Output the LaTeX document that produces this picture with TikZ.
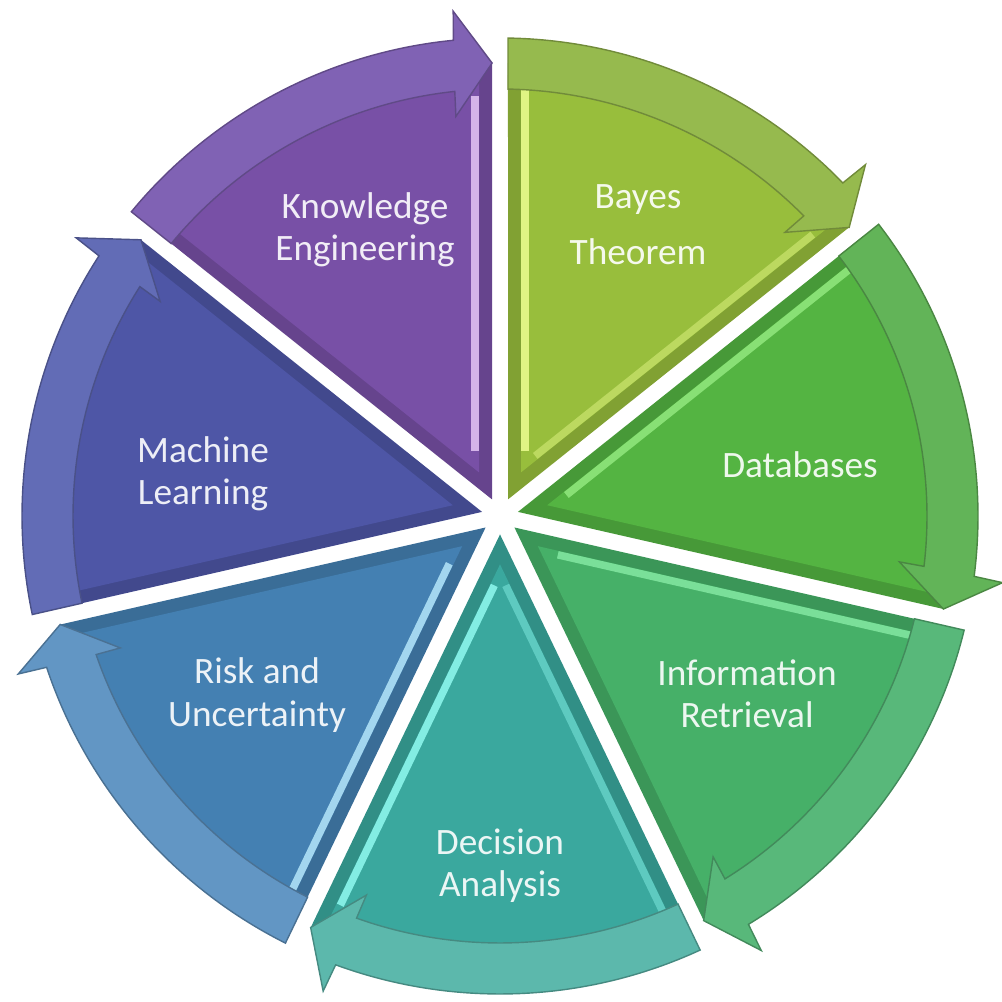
\documentclass[tikz,border=0pt]{standalone}
\usepackage{fontspec}
\setmainfont{Carlito}
\usetikzlibrary{calc}
\definecolor{bayesB}{RGB}{152,190,60}
\definecolor{bayesR}{RGB}{150,186,78}
\definecolor{bayesH}{RGB}{232,250,140}
\definecolor{dbB}{RGB}{84,180,66}
\definecolor{dbR}{RGB}{98,180,88}
\definecolor{dbH}{RGB}{150,235,130}
\definecolor{irB}{RGB}{70,176,104}
\definecolor{irR}{RGB}{88,184,122}
\definecolor{irH}{RGB}{140,240,170}
\definecolor{decB}{RGB}{58,168,158}
\definecolor{decR}{RGB}{92,184,172}
\definecolor{decH}{RGB}{140,245,235}
\definecolor{riskB}{RGB}{68,128,178}
\definecolor{riskR}{RGB}{98,150,196}
\definecolor{riskH}{RGB}{180,230,250}
\definecolor{mlB}{RGB}{78,86,166}
\definecolor{mlR}{RGB}{98,108,182}
\definecolor{mlH}{RGB}{150,160,230}
\definecolor{keB}{RGB}{120,80,166}
\definecolor{keR}{RGB}{128,98,180}
\definecolor{keH}{RGB}{235,205,250}
\tikzset{
  lbl/.style={align=center, font=\fontsize{10.6}{12}\selectfont, inner sep=0pt},
}
\begin{document}
\begin{tikzpicture}
\useasboundingbox (0,0) rectangle (10.02,10.02);
\coordinate (O) at (5.00,4.86);
\foreach \i/\bd/\bn/\hl/\hs/\he in {0/bayesB/bayesR/bayesH/0.9/0.45, 1/dbB/dbR/dbH/0.8/0, 2/irB/irR/irH/0.75/0, 3/decB/decR/decH/0.45/0.9, 4/riskB/riskR/riskH/0.85/0, 5/mlB/mlR/mlH/0/0, 6/keB/keR/keH/0/0.8}{
  \pgfmathsetmacro{\ts}{90-\i*360/7}
  \pgfmathsetmacro{\te}{\ts-360/7}
  \pgfmathsetmacro{\tm}{\ts-180/7}
  \pgfmathsetmacro{\ao}{0.08/sin(180/7)}
  \pgfmathsetmacro{\ai}{0.21/sin(180/7)}
  \pgfmathsetmacro{\db}{asin(0.08/4.53)}
  \pgfmathsetmacro{\dii}{asin(0.21/4.40)}
  \pgfmathsetmacro{\dout}{asin(0.08/4.78)}
  \pgfmathsetmacro{\din}{asin(0.08/4.27)}
  \begin{scope}[shift={(O)}]
    % body with darker rim
    \fill[\bd!85!black] (\tm:\ao) -- (\ts-\db:4.53)
      arc[start angle=\ts-\db, end angle=\te+\db, radius=4.53] -- cycle;
    \fill[\bd] (\tm:\ai) -- (\ts-\dii:4.40)
      arc[start angle=\ts-\dii, end angle=\te+\dii, radius=4.40] -- cycle;
    % bevel highlights
    \draw[line width=0.075cm, \hl, opacity=\hs]
      ($(\ts:0.65)+(\ts-90:0.25)$) -- ($(\ts:4.35)+(\ts-90:0.25)$);
    \draw[line width=0.075cm, \hl, opacity=\he]
      ($(\te:0.65)+(\te+90:0.25)$) -- ($(\te:4.2)+(\te+90:0.25)$);
    % outer arrow band
    \filldraw[fill=\bn, draw=\bn!75!black, line width=0.4pt]
      (\ts-\dout:4.78)
      arc[start angle=\ts-\dout, end angle=\te+5.6, radius=4.78]
      -- (\te+5.3:5.07) -- (\te+1.0:4.53) -- (\te+6.3:4.02)
      -- (\te+6.08:4.27)
      arc[start angle=\te+6.08, end angle=\ts-\din, radius=4.27] -- cycle;
  \end{scope}
}
\node[lbl, text=white!90!bayesB] (bayes) at (6.38,7.77) {Bayes\\[4pt]Theorem};
\node[lbl, text=white!90!dbB] (db) at (8.00,5.375) {Databases};
\node[lbl, text=white!90!irB] (ir) at (7.47,3.08) {Information\\Retrieval};
\node[lbl, text=white!90!decB] (dec) at (5.00,1.36) {Decision\\Analysis};
\node[lbl, text=white!90!riskB] (risk) at (2.57,3.07) {Risk and\\Uncertainty};
\node[lbl, text=white!90!mlB] (ml) at (2.03,5.28) {Machine\\Learning};
\node[lbl, text=white!90!keB] (ke) at (3.65,7.725) {Knowledge\\Engineering};
\end{tikzpicture}
\end{document}
